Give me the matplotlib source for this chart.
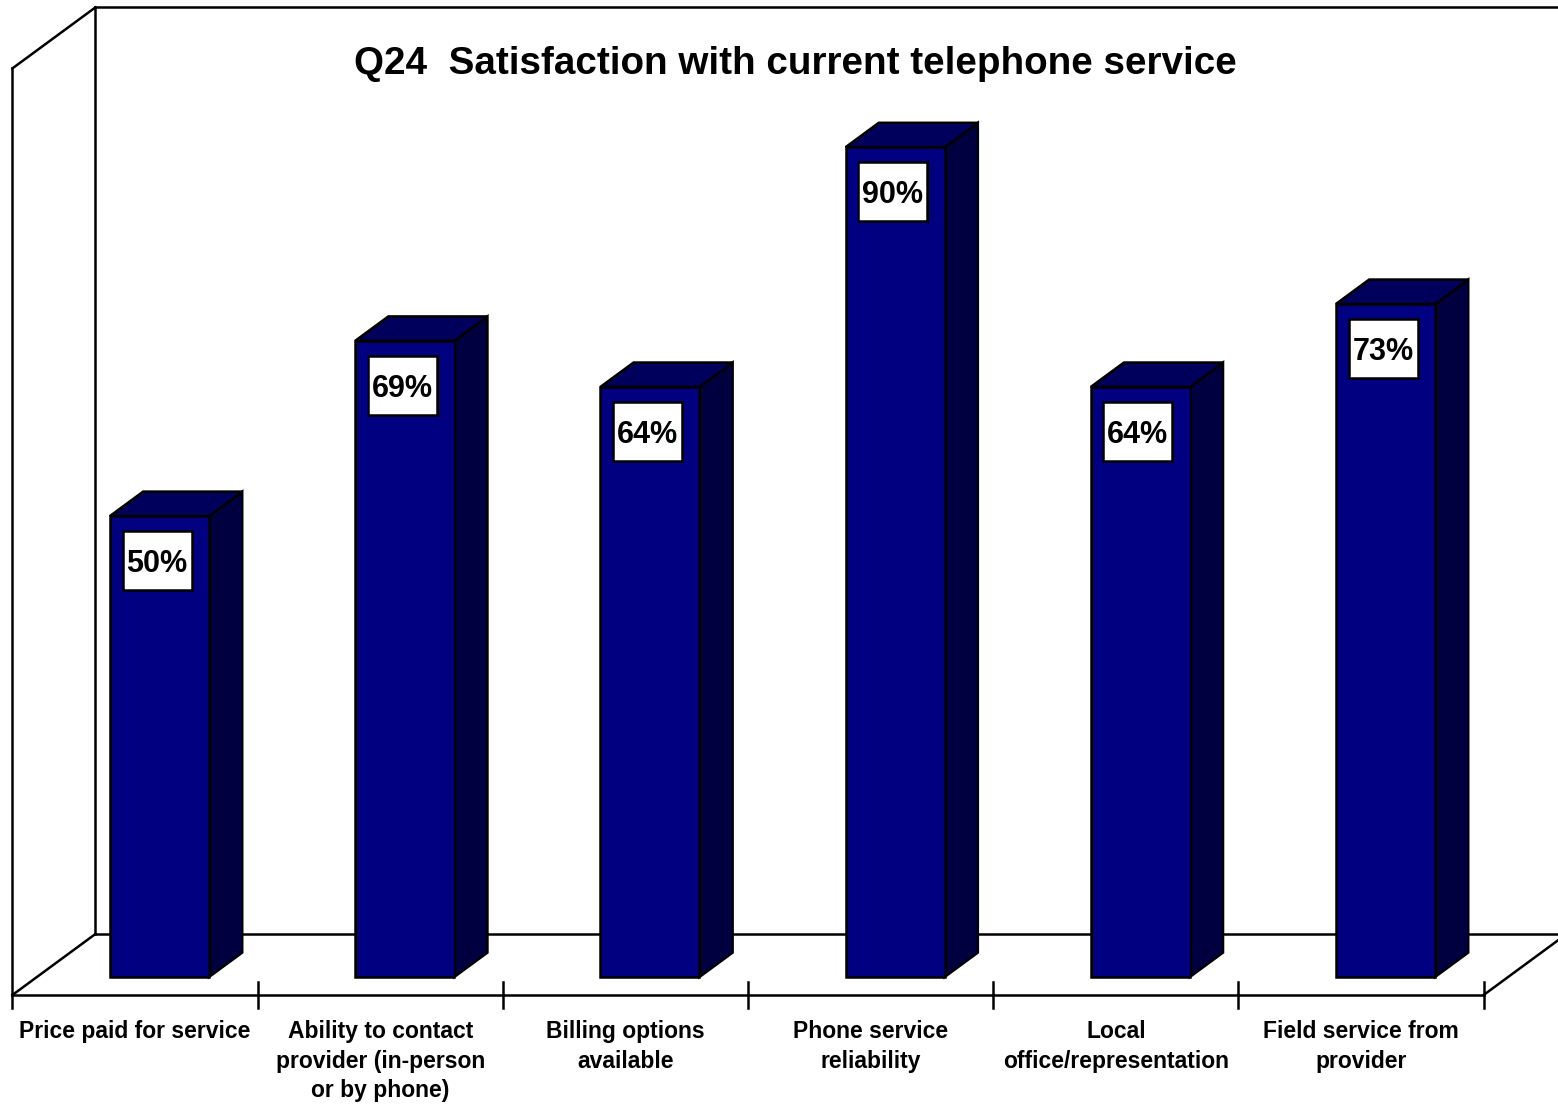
import matplotlib
matplotlib.use("Agg")
import matplotlib.pyplot as plt
from matplotlib.patches import Polygon, Rectangle

plt.rcParams['font.family'] = ['Liberation Sans', 'DejaVu Sans']

# Data
title = "Q24  Satisfaction with current telephone service"
categories = [
    "Price paid for service",
    "Ability to contact\nprovider (in-person\nor by phone)",
    "Billing options\navailable",
    "Phone service\nreliability",
    "Local\noffice/representation",
    "Field service from\nprovider",
]
values = [50, 69, 64, 90, 64, 73]
value_labels = ["50%", "69%", "64%", "90%", "64%", "73%"]

# Styling / geometry of the pseudo-3D chart (in data units: categories, percent)
front_color = "#000080"
side_color = "#000040"
top_color = "#00005C"
edge = "black"
lw = 1.8
wall_top = 100.5
depth_dx, depth_dy = 0.3385, 6.616      # full floor depth projected
bar_front = 0.295                       # bar front plane, fraction of depth
bar_depth = 0.40                        # bar thickness, fraction of depth
bar_width = 0.404

fig = plt.figure(figsize=(15.58, 11.04), dpi=100)
ax = fig.add_axes([0, 0, 1, 1])
ax.set_xlim(-0.6505, 5.7035)
ax.set_ylim(-13.774, 105.965)
ax.axis('off')

n = len(categories)

def plane(f):
    """Offset of a plane located at depth fraction f relative to the bar front plane."""
    d = f - bar_front
    return d * depth_dx, d * depth_dy

# Walls and floor
fx, fy = plane(0.0)      # front floor plane
bx, by = plane(1.0)      # back wall plane
left, right = -0.5, n - 0.5
line_kw = dict(color=edge, lw=lw, solid_capstyle='projecting', zorder=1)

# back wall
ax.plot([left + bx, left + bx], [by, by + wall_top], **line_kw)
ax.plot([left + bx, right + bx + 1], [by + wall_top, by + wall_top], **line_kw)
ax.plot([left + bx, right + bx + 1], [by, by], **line_kw)
# left wall
ax.plot([left + fx, left + fx], [fy, fy + wall_top], **line_kw)
ax.plot([left + fx, left + bx], [fy + wall_top, by + wall_top], **line_kw)
ax.plot([left + fx, left + bx], [fy, by], **line_kw)
# floor front edge and right diagonal
ax.plot([left + fx, right + fx], [fy, fy], **line_kw)
ax.plot([right + fx, right + bx], [fy, by], **line_kw)

# crossing tick marks at category boundaries
tick = 1.45
for i in range(n + 1):
    xt = left + i + fx
    top = fy if i == 0 else fy + tick
    ax.plot([xt, xt], [fy - tick, top], **line_kw)

# Bars
bdx, bdy = bar_depth * depth_dx, bar_depth * depth_dy
hw = bar_width / 2
for i, v in enumerate(values):
    x0, x1 = i - hw, i + hw
    front = Polygon([(x0, 0), (x1, 0), (x1, v), (x0, v)], closed=True,
                    facecolor=front_color, edgecolor=edge, lw=lw, zorder=3)
    side = Polygon([(x1, 0), (x1 + bdx, bdy), (x1 + bdx, v + bdy), (x1, v)], closed=True,
                   facecolor=side_color, edgecolor=edge, lw=lw, zorder=3)
    topf = Polygon([(x0, v), (x1, v), (x1 + bdx, v + bdy), (x0 + bdx, v + bdy)], closed=True,
                   facecolor=top_color, edgecolor=edge, lw=lw, zorder=3)
    for p in (side, topf, front):
        ax.add_patch(p)

    # value label box near the top of the front face
    bw, bh = 0.2814, 6.4
    cx = i - 0.01
    cy = v - 1.63 - bh / 2
    ax.add_patch(Rectangle((cx - bw / 2, cy - bh / 2), bw, bh,
                           facecolor="white", edgecolor=edge, lw=lw, zorder=4))
    ax.text(cx, cy, value_labels[i], ha='center', va='center_baseline',
            fontsize=22, fontweight='bold', color='black', zorder=5)

# Category labels under the floor
for i, lab in enumerate(categories):
    ax.text(i + fx, fy - 2.75, lab, ha='center', va='top', fontsize=16.5,
            fontweight='bold', linespacing=1.36, color='black')

# Title
fig.text(795 / 1558, 1 - 64 / 1104, title, ha='center', va='center',
         fontsize=27.8, fontweight='bold', color='black')

fig.savefig("out.png", dpi=100, facecolor="white")
